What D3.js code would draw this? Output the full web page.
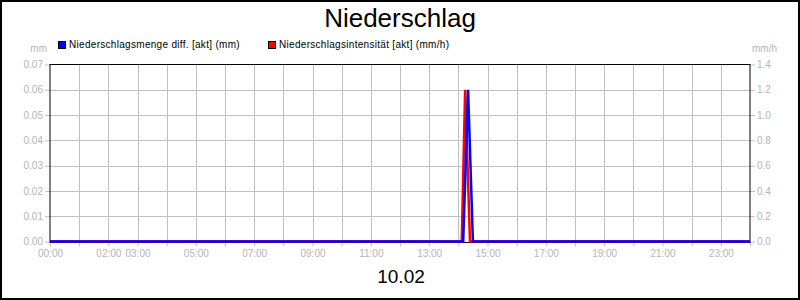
<!DOCTYPE html>
<html>
<head>
<meta charset="utf-8">
<script src="https://cdn.jsdelivr.net/npm/d3@7"></script>
<style>
  body { margin: 0; background: #fff; }
  svg { display: block; }
</style>
</head>
<body>
<svg id="chart"></svg>
<script>
const width = 800;
const height = 300;

// DATA -------------------------------------------
const title = 'Niederschlag';
const dateLabel = '10.02';
const seriesNames = ['Niederschlagsmenge diff. [akt] (mm)', 'Niederschlagsintensität [akt] (mm/h)'];
const seriesColors = ['#0000ff', '#ff0000'];

// Niederschlagsmenge diff. (mm), left axis
const mengeTimes = ['00:00', '14:10', '14:20', '14:30', '24:00'];
const mengeValues = [0, 0, 0.06, 0, 0];

// Niederschlagsintensität (mm/h), right axis
const intensTimes = ['00:00', '14:07', '14:14', '14:24', '24:00'];
const intensValues = [0, 0, 1.2, 0, 0];

const leftTicks = [0, 0.01, 0.02, 0.03, 0.04, 0.05, 0.06, 0.07];
const rightTicks = [0, 0.2, 0.4, 0.6, 0.8, 1.0, 1.2, 1.4];
const hourTicks = d3.range(0, 25);
const xLabels = ['00:00', '02:00', '03:00', '05:00', '07:00', '09:00', '11:00',
                 '13:00', '15:00', '17:00', '19:00', '21:00', '23:00'];

// LAYOUT -------------------------------------------
const plot = { left: 50, right: 750, top: 64.5, bottom: 241.5 };
const font = '"Liberation Sans", Arial, sans-serif';
const grey = '#b4b4b4';
const gridGrey = '#c0c0c0';

const svg = d3.select('svg#chart')
    .attr('width', width)
    .attr('height', height)
    .style('font-family', font);

svg.append('rect')
    .attr('x', 1).attr('y', 1)
    .attr('width', width - 2).attr('height', height - 2)
    .attr('fill', '#fff')
    .attr('stroke', '#000')
    .attr('stroke-width', 2);

const parseHour = s => {
    const [h, m] = s.split(':').map(Number);
    return h + m / 60;
};
const fmtHour = h => String(h).padStart(2, '0') + ':00';

const x = d3.scaleLinear().domain([0, 24]).range([plot.left, plot.right]);
const yL = d3.scaleLinear().domain([0, 0.07]).range([plot.bottom, plot.top]);
const yR = d3.scaleLinear().domain([0, 1.4]).range([plot.bottom, plot.top]);

// grid
svg.append('g')
    .selectAll('line.v')
    .data(hourTicks.slice(1, -1))
    .join('line')
    .attr('x1', d => Math.round(x(d)) + 0.5).attr('x2', d => Math.round(x(d)) + 0.5)
    .attr('y1', plot.top).attr('y2', plot.bottom)
    .attr('stroke', gridGrey).attr('stroke-width', 1);

svg.append('g')
    .selectAll('line.h')
    .data(leftTicks.slice(1, -1))
    .join('line')
    .attr('x1', plot.left).attr('x2', plot.right)
    .attr('y1', d => Math.round(yL(d)) + 0.5).attr('y2', d => Math.round(yL(d)) + 0.5)
    .attr('stroke', gridGrey).attr('stroke-width', 1);

// axes
function styleAxis(g) {
    g.select('.domain').remove();
    g.selectAll('.tick line').attr('stroke', gridGrey);
    g.selectAll('.tick text')
        .attr('fill', grey)
        .style('font-family', font)
        .style('font-size', '10px');
}

svg.append('g')
    .attr('transform', `translate(${plot.left},0)`)
    .call(d3.axisLeft(yL).tickValues(leftTicks).tickFormat(d3.format('.2f'))
        .tickSize(5).tickPadding(2))
    .call(styleAxis);

svg.append('g')
    .attr('transform', `translate(${plot.right},0)`)
    .call(d3.axisRight(yR).tickValues(rightTicks).tickFormat(d3.format('.1f'))
        .tickSize(5).tickPadding(2))
    .call(styleAxis);

svg.append('g')
    .attr('transform', `translate(0,${plot.bottom})`)
    .call(d3.axisBottom(x).tickValues(hourTicks)
        .tickFormat(d => xLabels.includes(fmtHour(d)) ? fmtHour(d) : '')
        .tickSize(5).tickPadding(3))
    .call(styleAxis);

// plot frame
svg.append('rect')
    .attr('x', plot.left).attr('y', plot.top)
    .attr('width', plot.right - plot.left).attr('height', plot.bottom - plot.top + 1)
    .attr('fill', 'none')
    .attr('stroke', '#000')
    .attr('stroke-width', 1);

// series
const intensLine = d3.line()
    .x((d, i) => x(parseHour(intensTimes[i])))
    .y(d => yR(d));
const mengeLine = d3.line()
    .x((d, i) => x(parseHour(mengeTimes[i])))
    .y(d => yL(d));

svg.append('path')
    .datum(intensValues)
    .attr('d', intensLine)
    .attr('fill', 'none')
    .attr('stroke', seriesColors[1])
    .attr('stroke-width', 2.5);

svg.append('path')
    .datum(mengeValues)
    .attr('d', mengeLine)
    .attr('fill', 'none')
    .attr('stroke', seriesColors[0])
    .attr('stroke-width', 2.5);

// units
svg.append('text')
    .attr('x', 47).attr('y', 52)
    .attr('text-anchor', 'end')
    .attr('fill', grey)
    .style('font-size', '10px')
    .text('mm');

svg.append('text')
    .attr('x', 752).attr('y', 52)
    .attr('fill', grey)
    .style('font-size', '10px')
    .text('mm/h');

// legend
const legendX = [58, 268];
const legend = svg.append('g')
    .selectAll('g')
    .data(seriesNames)
    .join('g')
    .attr('transform', (d, i) => `translate(${legendX[i]},0)`);
legend.append('rect')
    .attr('x', 0.5).attr('y', 41.5)
    .attr('width', 7).attr('height', 7)
    .attr('fill', (d, i) => seriesColors[i])
    .attr('stroke', '#000')
    .attr('stroke-width', 1);
legend.append('text')
    .attr('x', 11).attr('y', 48)
    .attr('fill', '#000')
    .style('font-size', '10px')
    .style('letter-spacing', '0.3px')
    .text(d => d);

// titles
svg.append('text')
    .attr('x', 400).attr('y', 27)
    .attr('text-anchor', 'middle')
    .style('font-size', '26px')
    .text(title);

svg.append('text')
    .attr('x', 401).attr('y', 283)
    .attr('text-anchor', 'middle')
    .style('font-size', '19px')
    .text(dateLabel);
</script>
</body>
</html>
